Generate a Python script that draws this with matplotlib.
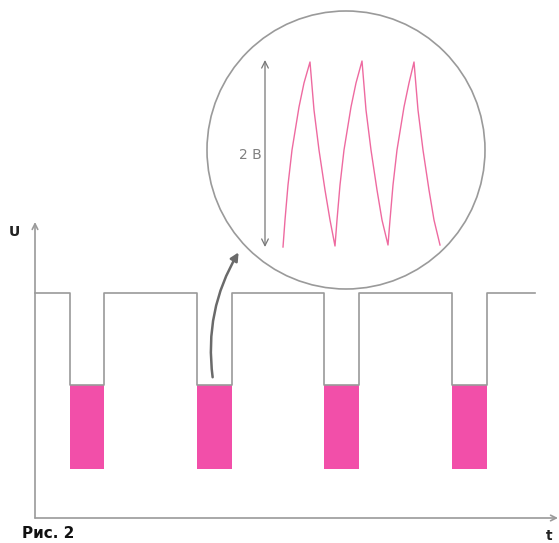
import matplotlib.pyplot as plt
from matplotlib.patches import Circle, Rectangle, FancyArrowPatch

# diagram coordinates (picture units, y grows downward)
# square wave: high level and the four notches
u_high = 293
wave_start, wave_end = 35, 535
notch_left = [70, 197, 324, 452]
notch_right = [104, 232, 359, 487]
pink_top = 385
pink_bottom = 469

# axes
axis_x0, axis_y0 = 35, 518
axis_top, axis_right = 222, 558

# magnifier circle
circle_cx, circle_cy, circle_r = 346, 150, 139

# sawtooth inside the circle
saw_x = [283, 285, 288, 292, 299, 304, 310,
         314, 319, 325, 330, 335,
         337, 340, 344, 351, 356, 362,
         366, 371, 377, 382, 388,
         390, 393, 397, 404, 409, 414,
         418, 423, 429, 434, 440]
saw_y = [247, 220, 185, 150, 107, 83, 62,
         110, 150, 190, 220, 246,
         220, 185, 150, 107, 83, 61,
         110, 150, 190, 220, 245,
         220, 185, 150, 107, 83, 62,
         110, 150, 190, 220, 245]

# 2 V scale arrow
scale_x = 265
scale_top, scale_bottom = 60, 247

grey = '#9a9a9a'
pink = '#f24fa9'

fig = plt.figure(figsize=(5.59, 5.43), dpi=100)
ax = fig.add_axes([0, 0, 1, 1])
ax.set_xlim(0, 559)
ax.set_ylim(543, 0)
ax.axis('off')

# coordinate axes
ax.annotate('', xy=(axis_x0, axis_top), xytext=(axis_x0, axis_y0),
            arrowprops=dict(arrowstyle='->', color=grey, lw=1.2, shrinkA=0, shrinkB=0))
ax.annotate('', xy=(axis_right, axis_y0), xytext=(axis_x0, axis_y0),
            arrowprops=dict(arrowstyle='->', color=grey, lw=1.2, shrinkA=0, shrinkB=0))
ax.text(14, 232, 'U', fontsize=10, fontweight='bold', ha='center', va='center', color='#222222')
ax.text(549, 536, 't', fontsize=10, fontweight='bold', ha='center', va='center', color='#222222')
ax.text(22, 541, 'Рис. 2', fontsize=11, fontweight='bold', ha='left', va='bottom', color='#111111')

# square wave with notches
wx = [wave_start]
wy = [u_high]
for l, r in zip(notch_left, notch_right):
    wx += [l, l, r, r]
    wy += [u_high, pink_top, pink_top, u_high]
wx.append(wave_end)
wy.append(u_high)
ax.plot(wx, wy, color=grey, lw=1.2)

for l, r in zip(notch_left, notch_right):
    ax.add_patch(Rectangle((l, pink_top), r - l, pink_bottom - pink_top,
                           facecolor=pink, edgecolor='none'))

# magnifier
ax.add_patch(Circle((circle_cx, circle_cy), circle_r, facecolor='white',
                    edgecolor=grey, lw=1.2))
ax.plot(saw_x, saw_y, color='#ee6aa0', lw=1.0)
ax.annotate('', xy=(scale_x, scale_top), xytext=(scale_x, scale_bottom),
            arrowprops=dict(arrowstyle='<->', color='#777777', lw=0.9,
                            shrinkA=0, shrinkB=0, mutation_scale=12))
ax.text(scale_x - 3, 155, '2 В', fontsize=10, ha='right', va='center', color='#808080')

# curved pointer from the second notch to the circle
ax.add_patch(FancyArrowPatch((213, 380), (240, 250),
                             connectionstyle='arc3,rad=-0.18',
                             arrowstyle='-|>', mutation_scale=12,
                             color='#6a6a6a', lw=1.8))

fig.savefig('out.png', dpi=100)
